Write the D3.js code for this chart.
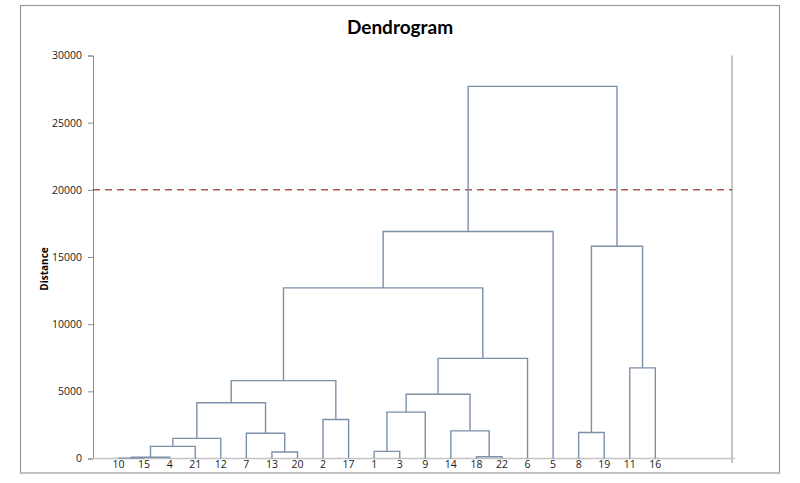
<!DOCTYPE html>
<html>
<head>
<meta charset="utf-8">
<script src="https://cdn.jsdelivr.net/npm/d3@7"></script>
<style>
  html, body { margin: 0; padding: 0; background: #fff; }
  svg { display: block; }
</style>
</head>
<body>
<svg id="chart" width="800" height="483"></svg>
<script>
// ---- data ----
const leafLabels = ["10","15","4","21","12","7","13","20","2","17","1","3","9","14","18","22","6","5","8","19","11","16"];
// merges: children refer to leaf labels ("L10") or earlier merges ("M3")
const mergeLeft   = ["L10","M0","M1","M2","L13","L7","M3","L2","M6","L1","M9","L18","L14","M10","M13","M8","M15","L8","L11","M17","M16"];
const mergeRight  = ["L15","L4","L21","L12","L20","M4","M5","L17","M7","L3","L9","L22","M11","M12","L6","M14","L5","L19","L16","M18","M19"];
const mergeHeight = [30, 90, 900, 1500, 480, 1880, 4150, 2900, 5800, 530, 3450, 130, 2060, 4780, 7450, 12700, 16900, 1940, 6750, 15800, 27700];
const yTicks = [0, 5000, 10000, 15000, 20000, 25000, 30000];
const cutHeight = 20000;
const xSlots = [0, 25];

// ---- layout ----
const svg = d3.select("#chart");
const plot = { left: 93, right: 732, top: 55.5, bottom: 458.5 };

// outer border
svg.append("rect").attr("x", 20.5).attr("y", 5.5).attr("width", 759).attr("height", 467.5)
  .attr("fill", "#fff").attr("stroke", "#9a9a9a").attr("stroke-width", 1.2);

const x = d3.scaleLinear().domain(xSlots).range([plot.left, plot.right]);
const y = d3.scaleLinear().domain([0, 30000]).range([plot.bottom, plot.top]);

// title
svg.append("text").attr("x", 400).attr("y", 34).attr("text-anchor", "middle")
  .attr("font-family", "Lato, 'Open Sans', sans-serif").attr("font-weight", "bold")
  .attr("font-size", 19).attr("fill", "#000").text("Dendrogram");

// y axis
const yAxis = d3.axisLeft(y).tickValues(yTicks).tickSize(5).tickPadding(6).tickFormat(d3.format("d"));
const gy = svg.append("g").attr("transform", `translate(${plot.left},0)`).call(yAxis);
gy.select(".domain").attr("stroke", "#8c8c8c");
gy.selectAll(".tick line").attr("stroke", "#8c8c8c");
gy.selectAll(".tick text").attr("font-family", "'Open Sans', 'DejaVu Sans', sans-serif")
  .attr("font-size", 10.5).attr("fill", "#1a1a1a");

// y axis title
svg.append("text").attr("transform", `translate(48,${(plot.top + plot.bottom) / 2 + 12}) rotate(-90)`)
  .attr("text-anchor", "middle").attr("font-family", "'Open Sans', 'DejaVu Sans', sans-serif")
  .attr("font-weight", "bold").attr("font-size", 10).attr("fill", "#000").text("Distance");

// right axis line
svg.append("line").attr("x1", plot.right).attr("x2", plot.right).attr("y1", plot.top).attr("y2", plot.bottom + 4.5)
  .attr("stroke", "#8c8c8c").attr("stroke-width", 1);

// x axis line
svg.append("line").attr("x1", plot.left).attr("x2", plot.right + 3).attr("y1", plot.bottom).attr("y2", plot.bottom)
  .attr("stroke", "#c4c4c4").attr("stroke-width", 1.6);

// node positions
const pos = {};
const hgt = {};
leafLabels.forEach((lab, i) => { pos["L" + lab] = x(i + 1); hgt["L" + lab] = 0; });
mergeLeft.forEach((l, i) => {
  const r = mergeRight[i];
  pos["M" + i] = (pos[l] + pos[r]) / 2;
  hgt["M" + i] = mergeHeight[i];
});

// cut line
svg.append("line").attr("x1", plot.left).attr("x2", plot.right).attr("y1", y(cutHeight)).attr("y2", y(cutHeight))
  .attr("stroke", "#8a0000").attr("stroke-width", 1).attr("stroke-dasharray", "7,5");

// links
const links = mergeLeft.map((l, i) => ({ l, r: mergeRight[i], h: mergeHeight[i] }));
svg.append("g").selectAll("path").data(links).join("path")
  .attr("d", d => `M${pos[d.l]},${y(hgt[d.l])}V${y(d.h)}H${pos[d.r]}V${y(hgt[d.r])}`)
  .attr("fill", "none").attr("stroke", "#7d90aa").attr("stroke-width", 1.4);

// leaf labels
svg.append("g").selectAll("text").data(leafLabels).join("text")
  .attr("x", (d, i) => x(i + 1)).attr("y", 468).attr("text-anchor", "middle")
  .attr("font-family", "'Open Sans', 'DejaVu Sans', sans-serif").attr("font-size", 10.5).attr("fill", "#1a1a1a")
  .text(d => d);
</script>
</body>
</html>
